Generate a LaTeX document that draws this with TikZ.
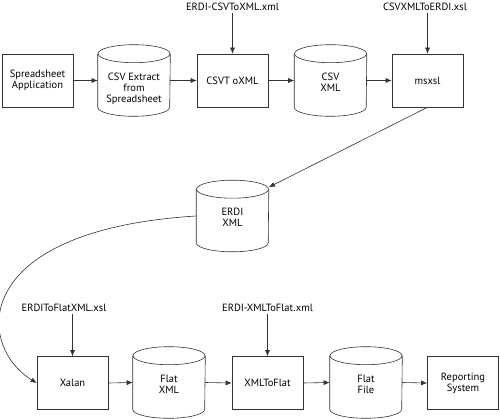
\documentclass[tikz,border=0pt]{standalone}
\usepackage{fontspec}
\setmainfont{PT Sans}
\usetikzlibrary{arrows.meta,calc}
\newcommand\cylshape[1]{%
  \draw ($(#1.north west)+(0,9)$) -- ($(#1.south west)+(0,-9)$)
    arc[start angle=180,end angle=0,x radius=36,y radius=9] -- ($(#1.north east)+(0,9)$);
  \draw ($(#1.north)+(0,9)$) ellipse[x radius=36,y radius=9];
}
\begin{document}
\begin{tikzpicture}[x=1pt,y=-1pt,
  font=\fontsize{10.5}{11}\selectfont,
  line width=0.6pt, draw=black!80,
  box/.style={draw, minimum width=71pt, minimum height=53pt, inner sep=0pt, align=center},
  cyl/.style={minimum width=72pt, minimum height=71pt, inner sep=0pt},
  cyltext/.style={anchor=north, align=center, inner sep=0pt},
  arr/.style={-{Latex[length=6pt,width=5pt]}},
  lbl/.style={inner sep=2pt, anchor=base}
]
\useasboundingbox (0,0) rectangle (500,419);

% top row
\node[box] (ssa) at (37.5,80.5) {Spreadsheet\\Application};
\node[cyl] (csvx) at (134,80.5) {};
\cylshape{csvx}
\node[cyltext] (csvxt) at ($(csvx.north)+(0,28)$) {CSV Extract\\from\\Spreadsheet};
\node[box] (c2x) at (232.5,80.5) {CSVT oXML};
\node[cyl] (csvxml) at (330.5,80.5) {};
\cylshape{csvxml}
\node[cyltext] (csvxmlt) at ($(csvxml.north)+(0,28)$) {CSV\\XML};
\node[box] (msxsl) at (427.5,80.5) {msxsl};

\node[lbl] (l1) at (232.5,11) {ERDI-CSVToXML.xml};
\node[lbl] (l2) at (425,11) {CSVXMLToERDI.xsl};

% middle
\node[cyl] (erdi) at (232.5,216) {};
\cylshape{erdi}
\node[cyltext] (erdit) at ($(erdi.north)+(0,28)$) {ERDI\\XML};

% bottom row
\node[box] (xalan) at (72.5,383) {Xalan};
\node[cyl] (flatxml) at (169,382.5) {};
\cylshape{flatxml}
\node[cyltext] (flatxmlt) at ($(flatxml.north)+(0,28)$) {Flat\\XML};
\node[box] (x2f) at (267.5,383) {XMLToFlat};
\node[cyl] (flatfile) at (366,382.5) {};
\cylshape{flatfile}
\node[cyltext] (flatfilet) at ($(flatfile.north)+(0,28)$) {Flat\\File};
\node[box] (rep) at (463,383) {Reporting\\System};

\node[lbl] (l3) at (64,312) {ERDIToFlatXML.xsl};
\node[lbl] (l4) at (267.5,312) {ERDI-XMLToFlat.xml};

% connectors
\draw[arr] (ssa.east) -- (csvx.west);
\draw[arr] (csvx.east) -- (c2x.west);
\draw[arr] (c2x.east) -- (csvxml.west);
\draw[arr] (csvxml.east) -- (msxsl.west);
\draw[arr] (l1.south) -- (c2x.north);
\draw[arr] (l2.south -| msxsl.north) -- (msxsl.north);
\draw[arr] (msxsl.south) -- ($(erdi.north east)+(0,7)$);
\draw[arr] (erdi.west) .. controls (-30,230) and (-25,345) .. (xalan.west);
\draw[arr] (l3.south -| xalan.north) -- (xalan.north);
\draw[arr] (l4.south) -- (x2f.north);
\draw[arr] (xalan.east) -- (flatxml.west);
\draw[arr] (flatxml.east) -- (x2f.west);
\draw[arr] (x2f.east) -- (flatfile.west);
\draw[arr] (flatfile.east) -- (rep.west);
\end{tikzpicture}
\end{document}
